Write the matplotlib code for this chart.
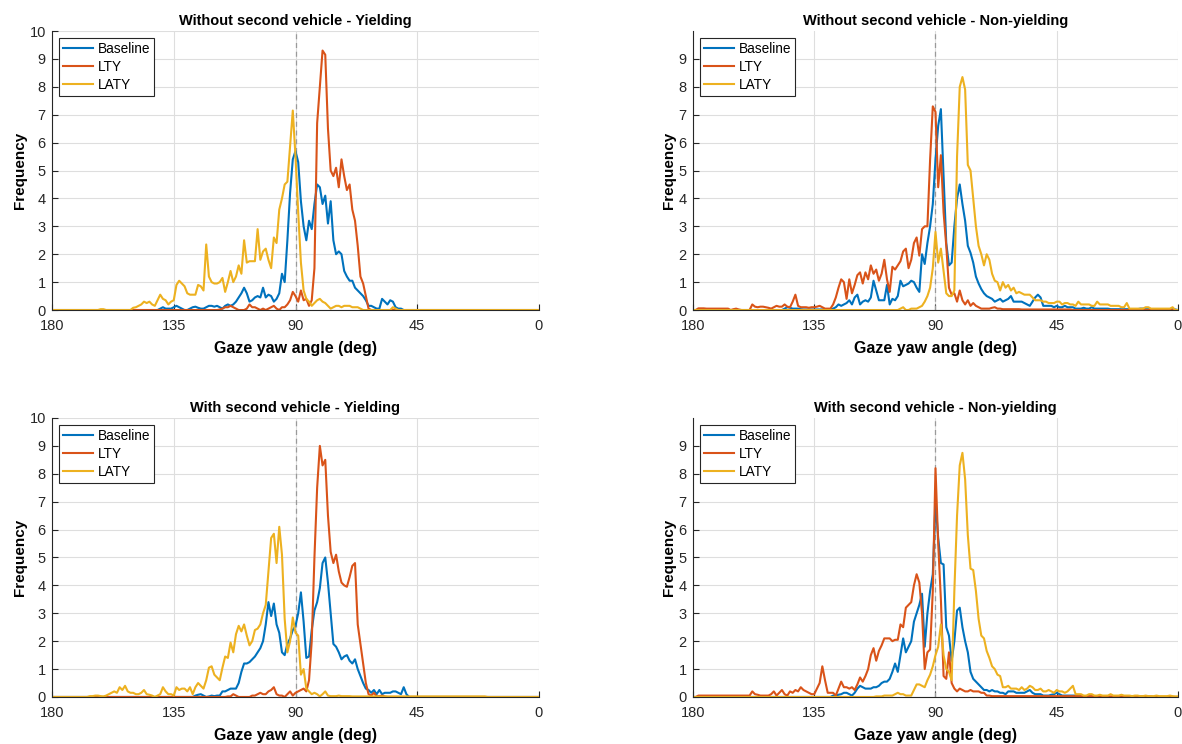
import numpy as np
import matplotlib
matplotlib.use("Agg")
import matplotlib.pyplot as plt

plt.rcParams['font.family'] = ['Liberation Sans', 'DejaVu Sans']

# gaze yaw angle bins, 180 deg down to 0 deg (1 deg steps)
angles = np.arange(180, -1, -1)

series_names = ["Baseline", "LTY", "LATY"]
series_colors = ["#0072BD", "#D95319", "#EDB120"]

# ---- Without second vehicle - Yielding (values start at given angle, 1 deg steps downwards)
wo_y_base_start = 140
wo_y_base = [0.05, 0.1, 0.05, 0.05, 0.05, 0.1, 0.15, 0.1, 0.05, 0.0,
             0.0, 0.05, 0.1, 0.12, 0.08, 0.05, 0.05, 0.1, 0.15, 0.15,
             0.12, 0.15, 0.1, 0.05, 0.15, 0.2, 0.15, 0.2, 0.3, 0.45,
             0.6, 0.8, 0.6, 0.3, 0.35, 0.45, 0.5, 0.45, 0.8, 0.45,
             0.55, 0.5, 0.3, 0.4, 0.6, 1.3, 1.0, 2.5, 4.2, 5.4,
             5.7, 5.3, 3.9, 3.0, 2.5, 3.2, 2.9, 3.8, 4.5, 4.4,
             3.8, 4.1, 3.1, 3.9, 2.5, 2.0, 2.1, 2.0, 1.4, 1.2,
             1.05, 1.05, 0.8, 0.7, 0.6, 0.5, 0.35, 0.15, 0.15, 0.1,
             0.05, 0.05, 0.4, 0.3, 0.2, 0.35, 0.3, 0.1, 0.05, 0.05,
             0.0]
wo_y_lty_start = 118
wo_y_lty = [0.02, 0.05, 0.1, 0.1, 0.15, 0.1, 0.05, 0.0, 0.0, 0.0,
            0.05, 0.2, 0.1, 0.1, 0.05, 0.0, 0.05, 0.0, 0.05, 0.1,
            0.15, 0.05, 0.0, 0.1, 0.1, 0.2, 0.35, 0.65, 0.5, 0.3,
            0.7, 0.35, 0.4, 0.15, 0.35, 1.5, 6.7, 8.0, 9.3, 9.15,
            6.5, 5.0, 4.8, 5.1, 4.4, 5.4, 4.8, 4.3, 4.5, 3.6,
            3.2, 2.3, 1.2, 0.95, 0.5, 0.05, 0.0, 0.0, 0.0]
wo_y_laty_start = 162
wo_y_laty = [0.03, 0.03, 0.0, 0.0, 0.0, 0.0, 0.0, 0.0, 0.0, 0.0,
             0.0, 0.0, 0.08, 0.1, 0.15, 0.2, 0.3, 0.25, 0.3, 0.2,
             0.15, 0.35, 0.55, 0.4, 0.35, 0.2, 0.3, 0.35, 0.9, 1.05,
             0.95, 0.85, 0.6, 0.55, 0.55, 0.55, 0.9, 0.85, 0.7, 2.35,
             1.2, 1.0, 0.95, 0.95, 1.0, 1.15, 0.65, 1.0, 1.4, 1.0,
             1.2, 1.6, 1.3, 2.5, 1.7, 1.75, 1.75, 1.75, 2.9, 1.8,
             2.1, 2.2, 1.8, 1.5, 2.6, 2.4, 3.6, 4.0, 4.5, 4.6,
             5.9, 7.15, 5.5, 3.5, 1.7, 0.7, 0.4, 0.3, 0.15, 0.25,
             0.35, 0.4, 0.3, 0.25, 0.15, 0.05, 0.1, 0.15, 0.15, 0.1,
             0.15, 0.15, 0.15, 0.1, 0.1, 0.1, 0.05, 0.0, 0.0, 0.0,
             0.0, 0.0, 0.0, 0.0, 0.0, 0.0, 0.0, 0.0, 0.1, 0.05]

# ---- Without second vehicle - Non-yielding
wo_ny_base_start = 146
wo_ny_base = [0.05, 0.1, 0.08, 0.05, 0.05, 0.05, 0.03, 0.02, 0.02, 0.02,
              0.02, 0.02, 0.02, 0.02, 0.02, 0.02, 0.02, 0.02, 0.05, 0.1,
              0.2, 0.15, 0.2, 0.25, 0.35, 0.2, 0.45, 0.55, 0.2, 0.3,
              0.35, 0.3, 0.45, 1.05, 0.7, 0.35, 0.35, 0.35, 0.9, 0.2,
              0.4, 0.35, 0.5, 1.05, 0.85, 0.9, 0.95, 1.05, 1.0, 0.8,
              0.65, 2.0, 1.65, 2.4, 3.0, 3.8, 5.4, 6.6, 7.2, 4.8,
              2.4, 1.6, 1.7, 3.0, 4.0, 4.5, 3.8, 3.2, 2.3, 2.05,
              1.7, 1.2, 0.95, 0.75, 0.6, 0.5, 0.45, 0.4, 0.3, 0.35,
              0.4, 0.3, 0.35, 0.4, 0.5, 0.3, 0.3, 0.3, 0.3, 0.25,
              0.2, 0.15, 0.3, 0.45, 0.55, 0.45, 0.15, 0.15, 0.15, 0.15,
              0.1, 0.15, 0.1, 0.1, 0.15, 0.1, 0.1, 0.1, 0.05, 0.05,
              0.05, 0.08, 0.05, 0.05, 0.1, 0.05, 0.05, 0.05, 0.05, 0.05,
              0.05, 0.03, 0.03, 0.03, 0.03, 0.03, 0.03, 0.03, 0.03, 0.03,
              0.03, 0.03, 0.05, 0.05, 0.03, 0.03, 0.03, 0.03, 0.03, 0.03,
              0.03, 0.03, 0.03, 0.03, 0.03, 0.02, 0.0]
wo_ny_lty_start = 178
wo_ny_lty = [0.06, 0.06, 0.06, 0.05, 0.05, 0.05, 0.05, 0.05, 0.05, 0.05,
             0.05, 0.05, 0.0, 0.03, 0.05, 0.02, 0.0, 0.0, 0.0, 0.0,
             0.2, 0.12, 0.1, 0.12, 0.12, 0.1, 0.08, 0.05, 0.1, 0.15,
             0.12, 0.12, 0.2, 0.12, 0.1, 0.3, 0.55, 0.15, 0.1, 0.1,
             0.1, 0.08, 0.1, 0.1, 0.12, 0.15, 0.1, 0.05, 0.05, 0.05,
             0.2, 0.45, 0.8, 1.1, 1.0, 0.4, 1.1, 0.6, 0.9, 1.25,
             1.35, 0.95, 1.35, 1.1, 1.6, 1.3, 1.45, 1.05, 1.3, 1.8,
             1.1, 0.65, 1.55, 1.45, 1.6, 1.75, 2.1, 2.2, 1.5, 1.8,
             2.4, 2.6, 1.95, 2.9, 3.0, 3.0, 5.4, 7.3, 7.1, 4.4,
             5.55, 3.5, 2.3, 0.8, 0.55, 0.6, 0.3, 0.7, 0.35, 0.2,
             0.35, 0.15, 0.25, 0.15, 0.1, 0.05, 0.05, 0.05, 0.05, 0.08,
             0.1, 0.05, 0.05, 0.03, 0.03, 0.03, 0.03, 0.03, 0.03, 0.03,
             0.02, 0.02, 0.02, 0.02, 0.02, 0.02, 0.02, 0.02, 0.02, 0.02,
             0.02, 0.02, 0.02, 0.02, 0.02, 0.02, 0.02, 0.02, 0.02]
wo_ny_laty_start = 106
wo_ny_laty = [0.0, 0.0, 0.0, 0.05, 0.1, 0.0, 0.0, 0.05, 0.05, 0.05,
              0.1, 0.15, 0.3, 0.5, 0.8, 1.5, 2.8, 1.7, 2.2, 1.4,
              0.6, 0.5, 0.5, 0.7, 5.5, 8.0, 8.35, 7.9, 5.2, 5.0,
              4.0, 3.0, 2.3, 2.0, 1.6, 2.0, 1.8, 1.3, 1.05, 1.0,
              0.7, 1.0, 0.8, 0.9, 0.7, 0.8, 0.6, 0.65, 0.6, 0.55,
              0.55, 0.55, 0.45, 0.35, 0.35, 0.35, 0.3, 0.3, 0.25, 0.25,
              0.25, 0.3, 0.3, 0.2, 0.25, 0.25, 0.2, 0.2, 0.15, 0.3,
              0.2, 0.2, 0.2, 0.2, 0.15, 0.15, 0.3, 0.2, 0.2, 0.2,
              0.2, 0.15, 0.15, 0.15, 0.15, 0.1, 0.1, 0.25, 0.05, 0.05,
              0.05, 0.05, 0.05, 0.05, 0.1, 0.1, 0.05, 0.05, 0.05, 0.05,
              0.05, 0.05, 0.05, 0.05, 0.1, 0.0, 0.0]

# ---- With second vehicle - Yielding
w_y_base_start = 127
w_y_base = [0.05, 0.08, 0.1, 0.05, 0.0, 0.02, 0.05, 0.03, 0.05, 0.05,
            0.2, 0.2, 0.25, 0.3, 0.3, 0.3, 0.5, 0.9, 1.2, 1.2,
            1.25, 1.35, 1.45, 1.6, 1.75, 2.0, 2.6, 3.4, 2.9, 3.35,
            2.6, 2.3, 1.6, 1.5, 1.9, 2.1, 2.4, 2.55, 3.0, 3.75,
            2.7, 1.4, 1.45, 2.4, 3.1, 3.4, 3.9, 4.8, 5.0, 4.1,
            3.0, 1.9, 1.8, 1.6, 1.35, 1.45, 1.5, 1.3, 1.2, 1.35,
            1.0, 0.75, 0.5, 0.3, 0.25, 0.15, 0.25, 0.1, 0.25, 0.1,
            0.15, 0.15, 0.15, 0.2, 0.2, 0.15, 0.1, 0.35, 0.1, 0.0,
            0.0]
w_y_lty_start = 115
w_y_lty = [0.02, 0.02, 0.1, 0.05, 0.0, 0.0, 0.0, 0.0, 0.0, 0.05,
           0.05, 0.1, 0.15, 0.1, 0.1, 0.2, 0.25, 0.35, 0.1, 0.05,
           0.05, 0.0, 0.1, 0.2, 0.05, 0.15, 0.2, 0.25, 0.3, 0.2,
           0.6, 2.0, 5.0, 7.5, 9.0, 8.3, 8.5, 6.5, 5.2, 4.8,
           5.1, 4.5, 4.1, 4.0, 3.95, 4.3, 4.7, 4.8, 2.6, 1.9,
           1.2, 0.5, 0.1, 0.05, 0.15, 0.02, 0.03, 0.05, 0.02]
w_y_laty_start = 166
w_y_laty = [0.03, 0.03, 0.05, 0.05, 0.03, 0.02, 0.05, 0.1, 0.15, 0.2,
            0.15, 0.35, 0.25, 0.4, 0.2, 0.15, 0.15, 0.1, 0.1, 0.15,
            0.25, 0.1, 0.08, 0.05, 0.0, 0.05, 0.1, 0.35, 0.2, 0.1,
            0.1, 0.05, 0.35, 0.25, 0.3, 0.3, 0.2, 0.35, 0.1, 0.35,
            0.5, 0.4, 0.3, 0.6, 1.05, 1.1, 0.8, 0.7, 0.6, 1.05,
            1.45, 1.4, 1.95, 1.6, 2.25, 2.55, 2.35, 2.6, 2.2, 1.85,
            2.0, 2.4, 2.45, 2.6, 3.0, 3.3, 4.5, 5.7, 5.85, 4.8,
            6.1, 5.1, 2.8, 1.6, 2.0, 2.85, 2.3, 2.2, 0.8, 1.0,
            0.3, 0.2, 0.1, 0.15, 0.1, 0.02, 0.1, 0.2, 0.05, 0.03,
            0.03, 0.03, 0.05, 0.03, 0.03, 0.03, 0.03, 0.02, 0.02, 0.02,
            0.02, 0.02, 0.02, 0.02, 0.02, 0.02, 0.02, 0.02, 0.02, 0.02,
            0.02, 0.02, 0.02, 0.02, 0.02, 0.02, 0.02, 0.02, 0.02, 0.02,
            0.02, 0.02, 0.02, 0.02, 0.02, 0.02, 0.02, 0.02, 0.02, 0.02,
            0.02, 0.02, 0.02, 0.02, 0.02, 0.02, 0.02, 0.02, 0.02, 0.02,
            0.02, 0.02, 0.02, 0.02, 0.02, 0.02, 0.02]

# ---- With second vehicle - Non-yielding
w_ny_base_start = 128
w_ny_base = [0.05, 0.05, 0.08, 0.1, 0.15, 0.15, 0.1, 0.05, 0.15, 0.3,
             0.4, 0.35, 0.3, 0.3, 0.3, 0.35, 0.35, 0.4, 0.5, 0.55,
             0.55, 0.65, 0.9, 1.2, 0.9, 1.5, 2.1, 1.6, 1.8, 2.0,
             2.7, 3.0, 3.3, 3.7, 1.8, 3.0, 3.8, 4.4, 7.0, 5.7,
             4.8, 4.75, 2.5, 2.2, 1.3, 2.0, 3.1, 3.2, 2.5, 2.0,
             1.6, 0.9, 0.65, 0.55, 0.45, 0.35, 0.25, 0.25, 0.2, 0.25,
             0.2, 0.2, 0.15, 0.15, 0.1, 0.2, 0.2, 0.2, 0.15, 0.15,
             0.15, 0.15, 0.2, 0.25, 0.15, 0.1, 0.1, 0.1, 0.05, 0.05,
             0.05, 0.08, 0.1, 0.15, 0.1, 0.05, 0.05, 0.05, 0.05, 0.05,
             0.05, 0.03, 0.03, 0.02, 0.02, 0.02, 0.02, 0.02, 0.02]
w_ny_lty_start = 178
w_ny_lty = [0.05, 0.05, 0.05, 0.05, 0.05, 0.05, 0.05, 0.05, 0.05, 0.05,
            0.05, 0.05, 0.05, 0.05, 0.05, 0.05, 0.05, 0.05, 0.05, 0.05,
            0.2, 0.1, 0.08, 0.05, 0.05, 0.05, 0.05, 0.1, 0.2, 0.05,
            0.15, 0.25, 0.1, 0.05, 0.2, 0.15, 0.25, 0.2, 0.35, 0.25,
            0.2, 0.15, 0.1, 0.1, 0.3, 0.5, 1.1, 0.6, 0.15, 0.15,
            0.15, 0.05, 0.3, 0.55, 0.35, 0.35, 0.3, 0.35, 0.25, 0.45,
            0.7, 0.55, 0.75, 1.0, 1.5, 1.75, 1.3, 1.65, 1.85, 2.1,
            2.1, 2.1, 2.0, 2.05, 2.05, 2.6, 2.5, 3.2, 3.3, 3.4,
            4.0, 4.4, 4.1, 3.0, 1.0, 1.6, 1.7, 3.8, 8.2, 5.5,
            3.5, 0.75, 0.65, 1.6, 0.5, 0.3, 0.2, 0.3, 0.25, 0.2,
            0.2, 0.25, 0.2, 0.2, 0.2, 0.15, 0.15, 0.05, 0.05, 0.03,
            0.03, 0.03, 0.03, 0.03, 0.03, 0.03, 0.03, 0.03, 0.03, 0.03,
            0.03, 0.03, 0.03, 0.03, 0.03, 0.03, 0.03, 0.03, 0.03, 0.03,
            0.03, 0.03, 0.03, 0.03, 0.03, 0.03, 0.03, 0.03, 0.03, 0.03,
            0.03, 0.03, 0.03, 0.03, 0.03, 0.03, 0.03, 0.03, 0.03, 0.03,
            0.02, 0.02, 0.02, 0.02, 0.02, 0.02, 0.02, 0.02, 0.02, 0.02,
            0.02, 0.02, 0.02, 0.02, 0.02, 0.02, 0.02, 0.02, 0.02]
w_ny_laty_start = 112
w_ny_laty = [0.02, 0.02, 0.02, 0.05, 0.05, 0.05, 0.05, 0.1, 0.15, 0.1,
             0.1, 0.05, 0.05, 0.05, 0.25, 0.45, 0.45, 0.4, 0.35, 0.6,
             0.8, 1.1, 1.5, 1.8, 2.6, 1.5, 1.0, 0.9, 0.6, 3.8,
             6.5, 8.3, 8.75, 7.8, 5.8, 4.6, 4.55, 3.8, 2.8, 2.2,
             2.1, 1.65, 1.4, 1.1, 1.0, 0.8, 0.75, 0.35, 0.35, 0.4,
             0.3, 0.3, 0.3, 0.25, 0.35, 0.25, 0.3, 0.4, 0.35, 0.25,
             0.25, 0.3, 0.2, 0.2, 0.25, 0.2, 0.15, 0.25, 0.2, 0.2,
             0.15, 0.2, 0.3, 0.4, 0.1, 0.1, 0.1, 0.05, 0.05, 0.1,
             0.1, 0.05, 0.05, 0.08, 0.05, 0.05, 0.05, 0.1, 0.05, 0.05,
             0.05, 0.08, 0.05, 0.05, 0.05, 0.03, 0.05, 0.05, 0.03, 0.03,
             0.05, 0.03, 0.03, 0.03, 0.05, 0.03, 0.03, 0.03, 0.03, 0.05,
             0.03, 0.02, 0.02]


def full_series(start, vals):
    out = np.zeros(len(angles))
    i = 180 - start
    out[i:i + len(vals)] = vals
    return out


panels = [
    ("Without second vehicle - Yielding",
     [(wo_y_base_start, wo_y_base), (wo_y_lty_start, wo_y_lty), (wo_y_laty_start, wo_y_laty)],
     range(0, 11)),
    ("Without second vehicle - Non-yielding",
     [(wo_ny_base_start, wo_ny_base), (wo_ny_lty_start, wo_ny_lty), (wo_ny_laty_start, wo_ny_laty)],
     range(0, 10)),
    ("With second vehicle - Yielding",
     [(w_y_base_start, w_y_base), (w_y_lty_start, w_y_lty), (w_y_laty_start, w_y_laty)],
     range(0, 11)),
    ("With second vehicle - Non-yielding",
     [(w_ny_base_start, w_ny_base), (w_ny_lty_start, w_ny_lty), (w_ny_laty_start, w_ny_laty)],
     range(0, 10)),
]

positions = [
    [0.044, 0.5833, 0.412, 0.375],
    [0.5863, 0.5833, 0.4103, 0.375],
    [0.044, 0.0632, 0.412, 0.375],
    [0.5863, 0.0632, 0.4103, 0.375],
]

fig = plt.figure(figsize=(11.82, 7.44), dpi=100)

for (title, data, yt), pos in zip(panels, positions):
    ax = fig.add_axes(pos)
    for (start, vals), name, col in zip(data, series_names, series_colors):
        ax.plot(angles, full_series(start, vals), color=col, lw=1.5, label=name)
    ax.axvline(90, color="#9a9a9a", lw=0.9, linestyle=(0, (4, 3)), zorder=1)
    ax.set_xlim(180, 0)
    ax.set_ylim(0, 10)
    ax.set_xticks([180, 135, 90, 45, 0])
    ax.set_yticks(list(yt))
    ax.grid(True, color="#dedede", lw=0.8)
    ax.set_axisbelow(True)
    for s in ["top", "right"]:
        ax.spines[s].set_visible(False)
    for s in ["left", "bottom"]:
        ax.spines[s].set_color("#262626")
        ax.spines[s].set_linewidth(0.8)
    ax.tick_params(direction="in", length=4, width=0.8, labelsize=10.5,
                   colors="#262626", labelcolor="#262626")
    ax.tick_params(axis="x", pad=6.5)
    ax.tick_params(axis="y", pad=4.5)
    ax.set_title(title, fontsize=10.5, fontweight="bold", pad=4)
    ax.set_xlabel("Gaze yaw angle (deg)", fontsize=11.5, fontweight="bold", labelpad=6)
    ax.set_ylabel("Frequency", fontsize=11, fontweight="bold", labelpad=2)
    leg = ax.legend(loc="upper left", fontsize=9.8, fancybox=False, framealpha=1,
                    edgecolor="#262626", handlelength=2.2, handletextpad=0.35,
                    borderpad=0.3, labelspacing=0.29, borderaxespad=0.5)
    leg.get_frame().set_linewidth(0.8)

fig.savefig("out.png", dpi=100)
